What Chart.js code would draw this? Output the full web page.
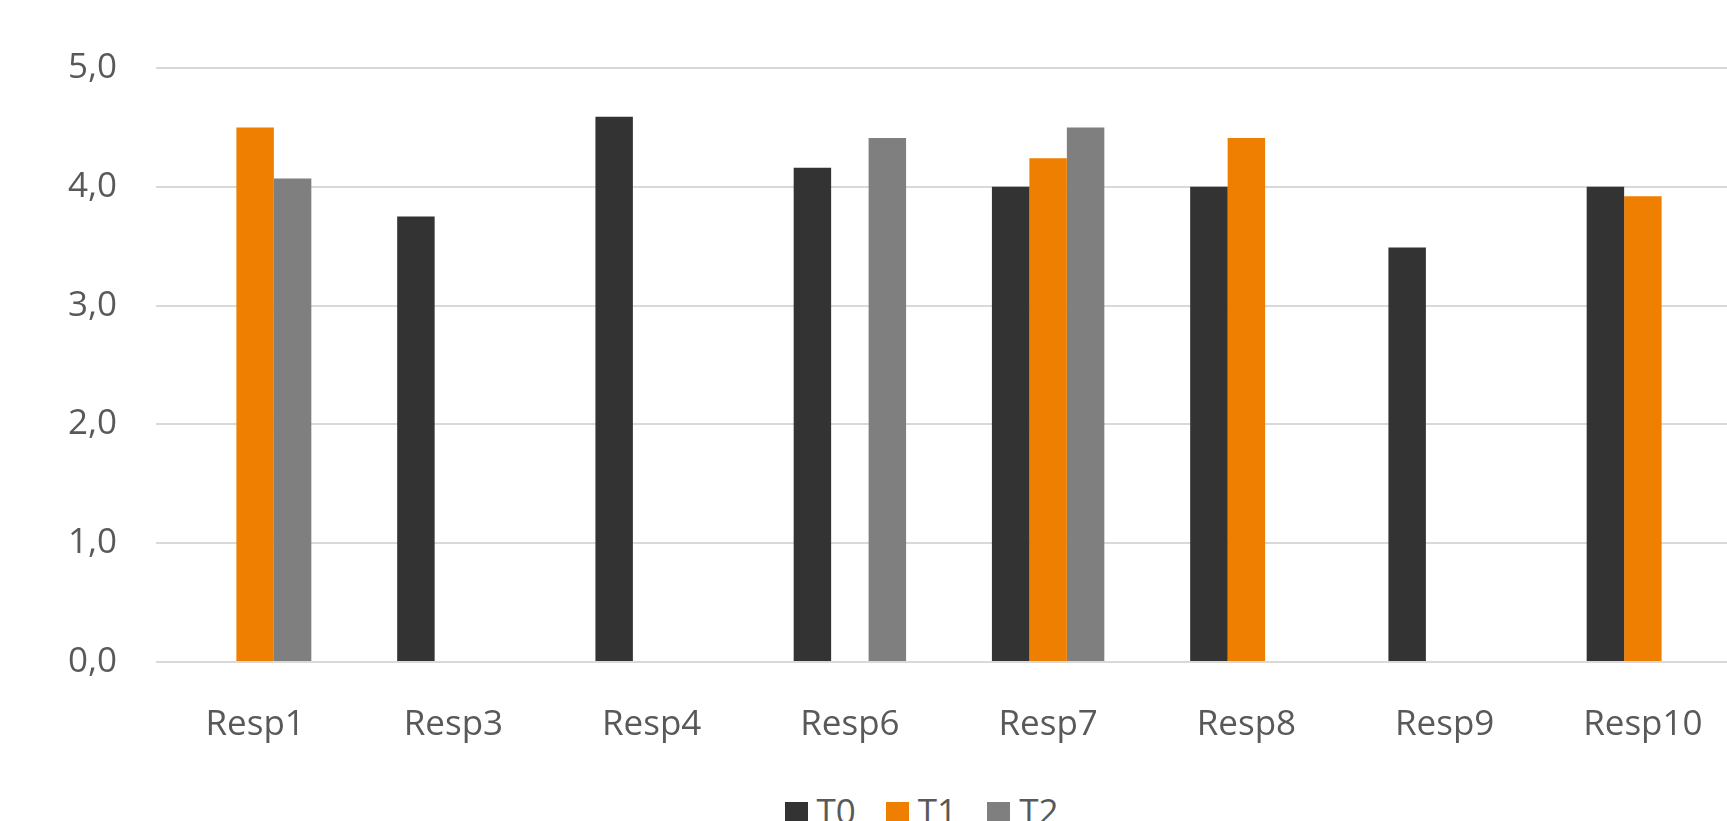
<!DOCTYPE html>
<html>
<head>
<meta charset="utf-8">
<script src="https://cdn.jsdelivr.net/npm/chart.js@4/dist/chart.umd.min.js"></script>
<style>
  html, body { margin: 0; padding: 0; background: #ffffff; overflow: hidden; }
  body { width: 1727px; height: 821px; position: relative; }
  #wrap { position: absolute; left: 0; top: 0; width: 1745px; height: 760px; }
  #legend {
    position: absolute; top: 793px; left: 0; width: 1727px;
    display: flex; justify-content: center; padding-left: 116px; box-sizing: border-box;
    font-family: "Open Sans", sans-serif; font-size: 35px; line-height: 35px; color: #595959;
  }
  .item { display: flex; align-items: flex-start; margin-right: 30px; }
  .item:last-child { margin-right: 0; }
  .box { width: 23px; height: 23px; margin-top: 9px; margin-right: 9px; }
</style>
</head>
<body>
<div id="wrap"><canvas id="chart"></canvas></div>
<div id="legend"></div>
<script>
// Respondents on the horizontal axis
const categories = ['Resp1', 'Resp3', 'Resp4', 'Resp6', 'Resp7', 'Resp8', 'Resp9', 'Resp10'];

// Scores per measurement moment (null = no answer at that moment)
const seriesT0 = [null, 3.75, 4.59, 4.16, 4.0, 4.0, 3.49, 4.0];
const seriesT1 = [4.5, null, null, null, 4.24, 4.41, null, 3.92];
const seriesT2 = [4.07, null, null, 4.41, 4.5, null, null, null];

const seriesNames = ['T0', 'T1', 'T2'];
const seriesColors = ['#333333', '#EF7F00', '#7F7F7F'];

// Value axis labels (decimal comma)
const yTickLabels = ['0,0', '1,0', '2,0', '3,0', '4,0', '5,0'];

const tickFont = { family: '"Open Sans", sans-serif', size: 35 };
const textColor = '#595959';

const chart = new Chart(document.getElementById('chart'), {
  type: 'bar',
  data: {
    labels: categories,
    datasets: [seriesT0, seriesT1, seriesT2].map((values, i) => ({
      label: seriesNames[i],
      data: values,
      backgroundColor: seriesColors[i],
      borderWidth: 0,
      categoryPercentage: 0.567,
      barPercentage: 1.0
    }))
  },
  options: {
    responsive: true,
    maintainAspectRatio: false,
    animation: false,
    layout: { padding: { top: 68, left: 0, right: 3, bottom: 0 } },
    plugins: {
      legend: { display: false },
      title: { display: false },
      tooltip: { enabled: false }
    },
    scales: {
      x: {
        grid: { display: false, drawTicks: false },
        border: { display: false },
        ticks: { color: textColor, font: tickFont, padding: 42, maxRotation: 0, autoSkip: false },
        afterFit(scale) { scale.height = 98; }
      },
      y: {
        min: 0,
        max: 5,
        ticks: {
          stepSize: 1,
          color: textColor,
          font: tickFont,
          padding: 39,
          callback: (v, i) => yTickLabels[i]
        },
        grid: { color: '#d9d9d9', lineWidth: 2, drawTicks: false },
        border: { display: false },
        afterFit(scale) { scale.width = 156; }
      }
    }
  }
});

// Legend row built from the chart's datasets
const legend = document.getElementById('legend');
chart.data.datasets.forEach(ds => {
  const item = document.createElement('div');
  item.className = 'item';
  const box = document.createElement('div');
  box.className = 'box';
  box.style.background = ds.backgroundColor;
  const text = document.createElement('span');
  text.textContent = ds.label;
  item.appendChild(box);
  item.appendChild(text);
  legend.appendChild(item);
});
</script>
</body>
</html>
